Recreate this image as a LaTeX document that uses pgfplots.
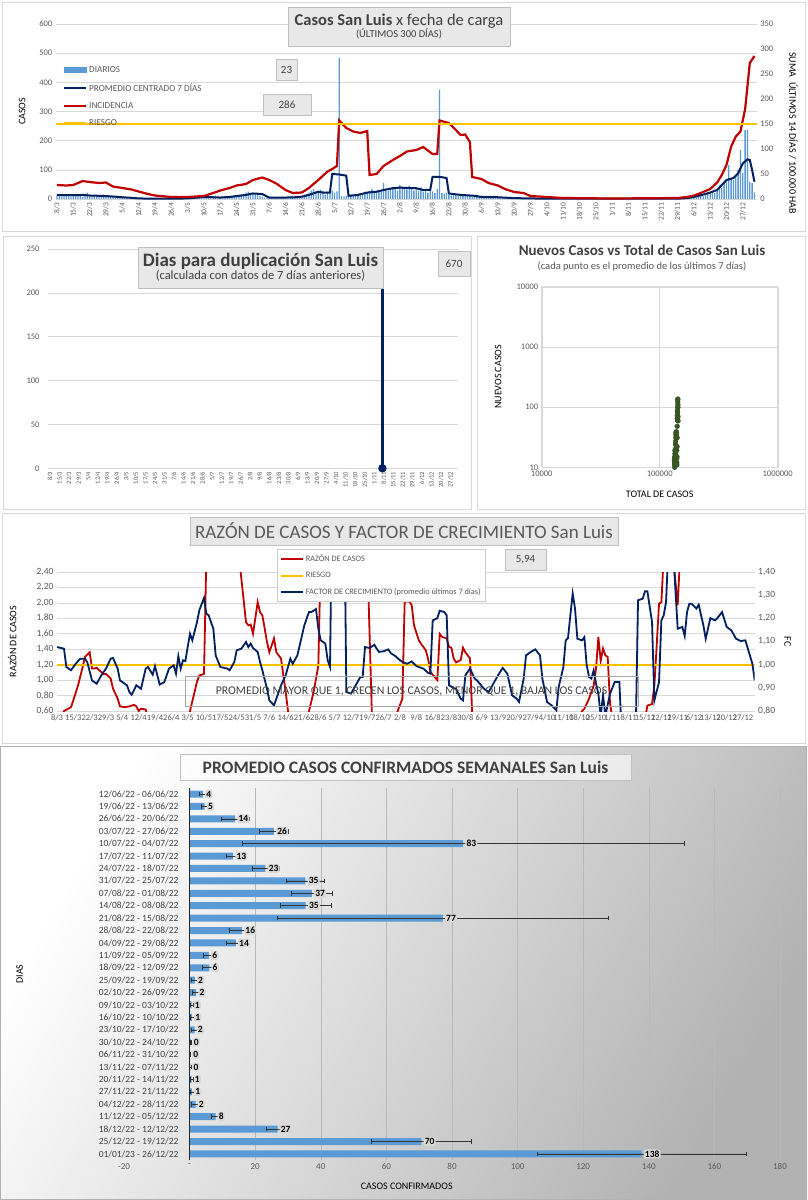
\documentclass[border=0pt]{standalone}
\usepackage{fontspec}
\setmainfont{Carlito}
\usepackage{pgfplots}
\usepackage{pgfplotstable}
\pgfplotsset{compat=1.18}

\definecolor{barblue}{HTML}{5B9BD5}
\definecolor{navy}{HTML}{002060}
\definecolor{incred}{HTML}{C00000}
\definecolor{riesgo}{HTML}{FFC000}
\definecolor{gridc}{HTML}{D9D9D9}
\definecolor{tickc}{HTML}{595959}
\definecolor{titc}{HTML}{404040}
\definecolor{framec}{HTML}{D9D9D9}
\definecolor{boxfill}{HTML}{E8E8E8}
\definecolor{scgreen}{HTML}{375623}

\pgfplotsset{
  every axis/.append style={
    scale only axis, axis line style={draw=none},
    major tick length=0pt, minor tick length=0pt,
    tick label style={font=\fontsize{8.5}{10}\selectfont, text=tickc},
    label style={font=\fontsize{8}{9}\selectfont, text=tickc},
    grid style={gridc, line width=0.6pt},
    /pgf/number format/assume math mode=true,
  },
  datelbl/.style={xtick={0,7,...,294},
    xticklabels={8/3,15/3,22/3,29/3,5/4,12/4,19/4,26/4,3/5,10/5,17/5,24/5,31/5,7/6,14/6,21/6,28/6,5/7,12/7,19/7,26/7,2/8,9/8,16/8,23/8,30/8,6/9,13/9,20/9,27/9,4/10,11/10,18/10,25/10,1/11,8/11,15/11,22/11,29/11,6/12,13/12,20/12,27/12}},
}
\tikzset{tbox/.style={draw=gray!50, fill=boxfill, text=titc, align=center, inner sep=1pt}}

% promedio semanal: fila, valor, error, etiqueta
\pgfplotstableread{
i v e lab
1 4.1 1.1 4
2 4.6 0.9 5
3 13.9 4.2 14
4 25.7 4.4 26
5 83.4 67.4 83
6 13.3 2.1 13
7 23.1 4.1 23
8 35.3 5.7 35
9 37.3 6.2 37
10 35.4 7.7 35
11 77.2 50.6 77
12 16.0 4.0 16
13 14.1 2.9 14
14 5.9 1.8 6
15 6.0 2.1 6
16 1.6 1.0 2
17 2.0 1.3 2
18 0.6 0.4 1
19 0.7 0.6 1
20 1.5 1.0 2
21 0.3 0.2 0
22 0.1 0.1 0
23 0.2 0.2 0
24 0.6 0.5 1
25 0.7 0.6 1
26 1.8 1.2 2
27 7.9 1.3 8
28 26.8 3.3 27
29 70.7 15.2 70
30 137.8 31.8 138
}\semanal

\begin{document}
\begin{tikzpicture}[x=1pt,y=1pt]
\path[use as bounding box, fill=white] (0,0) rectangle (807,-1200);
\draw[framec, line width=1pt] (2,-2) rectangle (805,-231);
\draw[framec, line width=1pt] (3,-236) rectangle (471,-509);
\draw[framec, line width=1pt] (477,-236) rectangle (805,-509);
\draw[framec, line width=1pt] (2,-513) rectangle (805,-743);
\shade[left color=white, right color=black!30, shading angle=60] (0,-746) rectangle (807,-1200);
\draw[gray!60] (0.5,-746.5) rectangle (806.5,-1199.5);

% ---------------- panel 1: casos x fecha de carga
\begin{axis}[at={(55.8pt,-199pt)}, anchor=south west, width=701pt, height=175pt,
  xmin=-0.5, xmax=300, ymin=0, ymax=600, ytick={0,100,...,600},
  ymajorgrids, datelbl, xtick pos=bottom, ytick pos=left,
  x tick label style={rotate=90, anchor=east, font=\fontsize{7.5}{8}\selectfont},
  ylabel={CASOS},
  every axis y label/.style={at={(axis description cs:-0.048,0.5)}, rotate=90, anchor=center}]
\addplot[ybar, bar width=1.3pt, bar shift=0pt, fill=barblue, draw=none] coordinates {
(0,12)(1,15)(2,8)(3,10)(4,14)(5,18)(6,9)(7,11)(8,13)(9,16)(10,12)(11,7)(12,10)(13,22)(14,14)(15,9)(16,11)(17,13)(18,10)(19,8)(20,15)(21,12)(22,9)(23,11)
(24,8)(25,6)(26,5)(27,7)(28,4)(29,3)(30,5)(31,2)(32,3)(33,4)(34,2)(35,1)(36,3)(37,2)(38,1)(39,2)(40,1)(42,2)(43,1)(45,1)(46,2)(48,1)(49,1)(51,2)(52,1)(54,1)(55,2)
(56,3)(57,5)(58,8)(59,4)(60,6)(61,9)(62,7)(63,5)(64,10)(65,8)(66,6)(67,9)(68,12)(69,7)(70,5)(71,8)(72,11)(73,9)(74,6)(75,10)(76,13)(77,9)(78,12)(79,15)(80,18)(81,22)(82,25)(83,20)(84,16)
(85,18)(86,15)(87,12)(88,8)(89,5)(90,6)(91,4)(92,3)(93,5)(94,6)(95,4)(96,7)(97,5)(98,3)(99,6)(100,5)(101,8)(102,4)(103,6)(104,9)(105,12)(106,15)(107,18)(108,22)(109,30)(110,35)(111,26)(112,20)(113,32)(114,28)(115,15)
(116,25)(117,18)(118,30)(119,22)(120,26)(121,485)(122,10)(123,8)(124,12)(125,9)(126,14)(127,11)(128,13)(129,16)(130,20)(131,18)(132,25)(133,22)(134,28)(135,35)(136,20)(137,24)(138,30)(139,26)(140,55)
(141,32)(142,28)(143,38)(144,42)(145,35)(146,30)(147,48)(148,40)(149,36)(150,33)(151,45)(152,38)(153,30)(154,35)(155,28)(156,40)(157,25)(158,30)(159,22)(160,28)(161,26)(162,20)(163,35)(164,375)
(165,20)(166,18)(167,22)(168,15)(169,12)(170,18)(171,14)(172,10)(173,16)(174,12)(175,9)(176,14)(177,11)(178,8)(179,10)(180,12)
(181,7)(182,9)(183,5)(184,8)(185,6)(186,4)(187,7)(188,5)(189,3)(190,6)(191,4)(192,5)(193,2)(194,3)(195,4)(196,2)(197,3)(198,1)(199,2)(200,3)(201,1)(202,2)(203,1)(205,2)(206,1)(207,1)(209,1)(210,2)
(212,1)(215,1)(218,2)(221,1)(226,1)(230,1)(236,1)(241,1)(247,1)(252,1)(257,1)(260,2)(263,1)(266,2)(268,1)
(269,2)(270,3)(271,5)(272,4)(273,8)(274,6)(275,10)(276,12)(277,9)(278,15)(279,18)(280,22)(281,25)(282,20)(283,30)(284,47)(285,38)(286,55)(287,60)(288,116)(289,70)(290,65)(291,80)(292,100)(293,168)(294,90)(295,236)(296,238)(297,60)(298,55)(299,23)};
\addplot[navy, line width=2pt] coordinates {
(0,14)(4,13)(8,13)(11,14)(14,12)(18,11)(21,10)(25,8)(28,6)(32,4)(35,2)(42,1)(49,1)(56,2)(60,5)(63,7)(67,6)(70,5)(74,7)(77,10)(81,14)(84,19)(88,17)(91,5)(95,5)(98,5)(102,6)(105,8)(108,14)(112,25)(114,22)(117,22)(118,86)(121,84)(124,80)(125,11)(129,14)(133,22)(137,25)(140,31)(144,37)(147,39)(150,38)(154,37)(157,31)(160,31)(161,76)(164,76)(167,72)(168,19)(173,14)(179,11)(182,7)(189,6)(196,3)(203,2)(210,1)(217,1)(266,1)(270,3)(273,7)(277,15)(280,22)(283,31)(285,48)(287,65)(290,72)(292,88)(294,122)(296,136)(297,134)(298,99)(299,59)};
\end{axis}
\begin{axis}[at={(55.8pt,-199pt)}, anchor=south west, width=701pt, height=175pt,
  xmin=-0.5, xmax=300, ymin=0, ymax=350, ytick={0,50,...,350}, xtick=\empty,
  ytick pos=right, yticklabel pos=right,
  ylabel={SUMA\ \ ÚLTIMOS\ 14\ DÍAS\ /\ 100.000\ HAB},
  ylabel style={font=\fontsize{8.8}{10}\selectfont},
  every axis y label/.style={at={(axis description cs:1.052,0.377)}, rotate=-90, anchor=center},
  legend style={at={(axis description cs:0.0103,0.77)}, anchor=north west, draw=none, fill=none,
    font=\fontsize{9.2}{10}\selectfont, text=tickc, row sep=5.6pt, inner sep=0pt},
  legend cell align=left,
  legend image code/.code={\draw[#1] (0pt,0pt) -- (22pt,0pt);}]
\addplot[incred, line width=2.2pt, forget plot] coordinates {
(0,28)(4,27)(7,28)(11,36)(14,34)(18,32)(21,33)(24,25)(28,22)(32,19)(35,15)(39,10)(42,7)(49,4)(56,4)(63,6)(67,12)(70,17)(74,22)(77,27)(81,30)(84,38)(88,43)(91,38)(94,31)(98,18)(101,12)(105,13)(108,22)(112,38)(116,55)(118,60)(120,66)(121,157)(124,142)(127,135)(130,132)(133,136)(134,48)(137,50)(140,66)(144,78)(147,86)(150,95)(154,98)(157,104)(159,97)(161,90)(163,90)(164,157)(168,152)(171,138)(173,128)(175,129)(177,114)(178,44)(182,40)(185,32)(189,27)(192,20)(196,14)(200,12)(203,6)(210,4)(217,2)(238,1)(266,2)(270,4)(273,7)(276,12)(280,20)(283,33)(285,48)(287,68)(289,105)(291,125)(293,135)(295,180)(297,272)(299,286)};
\addplot[riesgo, line width=2pt, forget plot] coordinates {(-0.5,150)(300,150)};
\addlegendimage{legend image code/.code={\fill[barblue] (0pt,-2.5pt) rectangle (22pt,2.5pt);}}
\addlegendentry{DIARIOS}
\addlegendimage{draw=navy, line width=2pt}
\addlegendentry{PROMEDIO CENTRADO 7 DÍAS}
\addlegendimage{draw=incred, line width=2pt}
\addlegendentry{INCIDENCIA}
\addlegendimage{draw=riesgo, line width=2pt}
\addlegendentry{RIESGO}
\end{axis}
\node[tbox, minimum width=222pt, minimum height=39pt] at (399,-26.5)
  {{\fontsize{16.5}{18}\selectfont\textbf{Casos San Luis} x fecha de carga}\\[0pt]{\fontsize{10.5}{12}\selectfont (ÚLTIMOS 300 DÍAS)}};
\node[tbox, minimum width=21pt, minimum height=21pt, font=\fontsize{11}{12}\selectfont] at (286.5,-69.5) {23};
\node[tbox, minimum width=48pt, minimum height=21pt, font=\fontsize{11}{12}\selectfont] at (287,-104.5) {286};

% ---------------- panel 2: dias para duplicacion
\begin{axis}[at={(48pt,-468.3pt)}, anchor=south west, width=410pt, height=219.3pt,
  xmin=-1.5, xmax=299.5, ymin=0, ymax=250, ytick={0,50,...,250}, ymajorgrids,
  datelbl, xtick pos=bottom, ytick pos=left,
  x tick label style={rotate=90, anchor=east, font=\fontsize{6.5}{7}\selectfont},
  y tick label style={xshift=-5pt}]
\addplot[navy, line width=3pt, mark=*, mark size=2.6pt] coordinates {(244,0)(244,670)};
\end{axis}
\node[tbox, minimum width=245pt, minimum height=41pt] at (260.5,-267.5)
  {{\fontsize{19}{21}\selectfont\bfseries Dias para duplicación San Luis}\\[0pt]{\fontsize{12.5}{14}\selectfont(calculada con datos de 7 días anteriores)}};
\node[tbox, minimum width=32pt, minimum height=25pt, font=\fontsize{11}{12}\selectfont] at (454,-263.5) {670};

% ---------------- panel 3: nuevos vs total
\begin{axis}[at={(541.7pt,-467.3pt)}, anchor=south west, width=236pt, height=180.6pt,
  xmode=log, ymode=log, xmin=1e4, xmax=1e6, ymin=10, ymax=1e4,
  xtick={1e4,1e5,1e6}, xticklabels={10000,100000,1000000},
  ytick={10,100,1000,10000}, yticklabels={10,100,1000,10000},
  grid=major, axis line style={draw=gridc},
  xlabel={TOTAL DE CASOS}, ylabel={NUEVOS CASOS},
  xlabel style={font=\fontsize{9.5}{11}\selectfont\bfseries, text=titc},
  ylabel style={font=\fontsize{9.5}{11}\selectfont\bfseries, text=titc},
  every axis y label/.style={at={(axis description cs:-0.185,0.5)}, rotate=90, anchor=center},
  every axis x label/.style={at={(axis description cs:0.5,-0.148)}, anchor=center}]
\addplot[only marks, mark=*, mark size=2.4pt, scgreen] coordinates {
(133200,14)(133400,13)(133500,12)(133600,13)(133800,11)(134000,10)(134100,12)(134300,15)(134600,19)(134800,17)(134900,14)(135000,11)(135200,13)(135500,16)(135800,20)(136100,24)(136400,27)(136800,31)(137100,35)(137500,38)(137900,39)(138200,37)(138500,33)(138800,31)(139000,38)(139200,22)(139400,19)(139600,14)(139700,11)(139800,12)(140000,15)(140200,22)(140400,31)(140600,48)(140800,65)(141000,72)(141200,88)(141500,80)(141700,84)(141900,60)(142000,100)(142100,122)(142300,136)(142400,134)(142600,110)(142700,99)(142800,70)(142900,59)};
\end{axis}
\node[text=titc, font=\fontsize{15}{17}\selectfont\bfseries] at (642,-250) {Nuevos Casos vs Total de Casos San Luis};
\node[text=tickc, font=\fontsize{10.5}{12}\selectfont] at (642,-267) {(cada punto es el promedio de los últimos 7 días)};

% ---------------- panel 4: razon de casos y factor de crecimiento
\begin{axis}[at={(57pt,-711pt)}, anchor=south west, width=697.7pt, height=139pt,
  xmin=0, xmax=299, ymin=0.6, ymax=2.4, ytick={0.6,0.8,...,2.41}, ymajorgrids,
  datelbl, xtick pos=bottom, ytick pos=left,
  tick label style={font=\fontsize{9.5}{10}\selectfont},
  x tick label style={font=\fontsize{8.5}{10}\selectfont},
  y tick label style={/pgf/number format/.cd, fixed, fixed zerofill, precision=2, use comma},
  ylabel={RAZÓN DE CASOS}, ylabel style={font=\fontsize{9}{10}\selectfont},
  every axis y label/.style={at={(axis description cs:-0.064,0.5)}, rotate=90, anchor=center}]
\addplot[incred, line width=1.8pt] coordinates {
(0,0.4)(3,0.6)(6,0.65)(7,0.74)(9,0.93)(11,1.17)(12,1.30)(13,1.33)(14,1.36)(15,1.15)(16,1.15)(17,1.16)(18,1.13)(20,1.08)(21,1.08)(23,1.02)(24,0.89)(26,0.76)(27,0.66)(29,0.65)(31,0.66)(33,0.68)(34,0.66)(35,0.60)(36,0.63)(38,0.62)(39,0.50)(56,0.50)(57,0.60)(60,0.98)(61,1.06)(63,1.08)(64,2.60)(78,2.60)(81,1.75)(82,1.71)(83,1.72)(84,1.60)(86,2.01)(87,1.88)(88,1.84)(89,1.67)(90,1.49)(91,1.36)(93,1.54)(94,1.36)(96,1.28)(97,1.06)(98,0.85)(99,0.60)(100,0.50)(107,0.50)(108,0.60)(110,0.85)(112,1.19)(113,2.60)(133,2.60)(135,0.50)(145,0.50)(146,0.60)(148,0.76)(149,2.02)(151,2.02)(152,1.97)(153,1.71)(155,1.52)(156,1.47)(158,1.39)(159,1.28)(160,1.11)(161,1.07)(163,1.00)(164,1.60)(165,1.56)(167,1.54)(168,1.43)(169,1.42)(170,1.28)(171,1.23)(173,1.26)(174,1.42)(175,1.36)(177,1.28)(178,0.50)(224,0.50)(225,0.60)(226,0.63)(228,0.76)(230,0.93)(231,1.15)(232,1.56)(233,1.25)(234,1.41)(235,1.32)(236,1.30)(237,0.70)(238,0.50)(252,0.50)(253,0.67)(255,0.69)(256,0.93)(257,1.45)(258,1.99)(259,2.01)(260,2.60)(264,2.60)(266,1.97)(267,2.60)(299,5.94)};
\end{axis}
\begin{axis}[at={(57pt,-711pt)}, anchor=south west, width=697.7pt, height=139pt,
  xmin=0, xmax=299, ymin=0.8, ymax=1.4, ytick={0.8,0.9,...,1.41}, xtick=\empty,
  ytick pos=right, yticklabel pos=right,
  tick label style={font=\fontsize{9.5}{10}\selectfont},
  y tick label style={/pgf/number format/.cd, fixed, fixed zerofill, precision=2, use comma},
  ylabel={FC}, ylabel style={font=\fontsize{9}{10}\selectfont},
  every axis y label/.style={at={(axis description cs:1.047,0.5)}, rotate=-90, anchor=center},
  legend style={at={(axis description cs:0.315,1.165)}, anchor=north west, draw=gray!40, fill=white,
    font=\fontsize{8.3}{9}\selectfont, text=tickc, row sep=5pt, inner xsep=3pt, inner ysep=3.5pt},
  legend cell align=left,
  legend image code/.code={\draw[#1] (0pt,0pt) -- (22pt,0pt);}]
\addplot[riesgo, line width=1.8pt, forget plot] coordinates {(0,1)(299,1)};
\addplot[navy, line width=1.8pt, forget plot] coordinates {
(0,1.076)(3,1.069)(4,0.99)(6,0.976)(8,1.004)(10,1.026)(12,1.026)(13,1.01)(15,0.932)(17,0.918)(19,0.954)(21,0.983)(23,1.026)(24,1.029)(26,0.983)(27,0.932)(30,0.911)(31,0.882)(32,0.870)(34,0.911)(36,0.896)(38,0.983)(39,0.99)(41,0.957)(42,0.994)(44,0.914)(46,0.925)(48,0.983)(50,0.997)(51,0.961)(52,1.037)(53,0.983)(54,1.019)(55,1.015)(56,1.076)(57,1.134)(58,1.105)(60,1.184)(61,1.235)(63,1.288)(64,1.22)(65,1.213)(67,1.155)(68,1.04)(70,0.99)(73,0.983)(74,0.976)(76,1.012)(77,1.062)(79,1.069)(81,1.098)(82,1.076)(83,1.091)(84,1.072)(86,1.055)(87,1.012)(88,0.976)(90,0.896)(91,0.846)(93,0.824)(94,0.853)(95,0.882)(96,0.911)(98,0.954)(99,0.99)(100,1.026)(101,1.004)(103,1.04)(104,1.083)(106,1.17)(107,1.199)(108,1.227)(109,1.227)(111,1.24)(112,1.155)(113,1.105)(115,1.091)(116,1.019)(117,0.99)(118,1.8)(123,1.8)(124,0.882)(126,0.875)(128,0.911)(130,0.947)(131,0.947)(132,1.076)(134,1.072)(136,1.086)(137,1.069)(138,1.055)(140,1.058)(142,1.066)(143,1.05)(145,1.037)(147,1.019)(148,1.012)(150,1.004)(152,1.014)(154,0.994)(157,0.983)(159,0.965)(160,0.961)(161,1.191)(163,1.201)(164,1.233)(166,1.227)(167,1.213)(168,0.911)(170,0.899)(171,0.896)(173,0.853)(174,0.846)(175,0.954)(177,0.983)(179,0.94)(180,0.932)(183,0.896)(185,0.882)(187,0.918)(189,0.954)(191,0.986)(193,0.961)(195,0.868)(197,0.853)(198,0.839)(200,0.94)(201,1.04)(203,1.055)(205,1.066)(207,1.04)(208,0.94)(210,0.839)(212,0.824)(214,0.803)(215,0.904)(217,0.99)(218,1.105)(219,1.115)(220,1.213)(221,1.307)(222,1.242)(223,1.112)(225,1.105)(226,1.119)(227,0.997)(228,0.947)(229,0.94)(230,0.976)(231,0.918)(232,0.875)(233,0.78)(234,0.868)(235,0.78)(237,0.875)(239,0.925)(241,0.925)(242,0.7)(248,0.7)(249,1.278)(251,1.285)(252,1.317)(253,1.317)(255,1.184)(256,0.846)(258,0.925)(259,1.191)(260,1.213)(261,1.27)(262,1.5)(264,1.5)(266,1.155)(268,1.163)(269,1.124)(270,1.227)(271,1.263)(272,1.263)(274,1.242)(275,1.259)(277,1.17)(278,1.112)(280,1.201)(282,1.191)(283,1.201)(285,1.227)(287,1.163)(289,1.148)(291,1.112)(293,1.102)(295,1.105)(298,1.004)(299,0.932)};
\addlegendimage{draw=incred, line width=1.8pt}
\addlegendentry{RAZÓN DE CASOS}
\addlegendimage{draw=riesgo, line width=1.8pt}
\addlegendentry{RIESGO}
\addlegendimage{draw=navy, line width=1.8pt}
\addlegendentry{FACTOR DE CRECIMIENTO (promedio últimos 7 días)}
\end{axis}
\node[draw=gray!50, fill=boxfill, text=tickc, minimum width=428pt, minimum height=28pt, font=\fontsize{19}{21}\selectfont] at (404,-531) {RAZÓN DE CASOS Y FACTOR DE CRECIMIENTO San Luis};
\node[tbox, minimum width=41pt, minimum height=21pt, font=\fontsize{11}{12}\selectfont] at (525.5,-559.5) {5,94};
\node[draw=gray!70, minimum width=453pt, minimum height=30pt, text=titc, font=\fontsize{11.8}{13}\selectfont] at (411.5,-691) {PROMEDIO MAYOR QUE 1, CRECEN LOS CASOS, MENOR QUE 1, BAJAN LOS CASOS};

% ---------------- panel 5: promedio semanal
\begin{axis}[at={(124pt,-1160.1pt)}, anchor=south west, width=656pt, height=372.3pt,
  xmin=-20, xmax=180, xtick={-20,0,...,180}, xticklabels={-20,-,20,40,60,80,100,120,140,160,180},
  minor xtick={20,40,...,180}, xminorgrids, minor grid style={gray!55, line width=0.6pt},
  y dir=reverse, ymin=0.5, ymax=30.5, ytick={1,...,30},
  yticklabels={12/06/22 - 06/06/22,19/06/22 - 13/06/22,26/06/22 - 20/06/22,03/07/22 - 27/06/22,10/07/22 - 04/07/22,17/07/22 - 11/07/22,24/07/22 - 18/07/22,31/07/22 - 25/07/22,07/08/22 - 01/08/22,14/08/22 - 08/08/22,21/08/22 - 15/08/22,28/08/22 - 22/08/22,04/09/22 - 29/08/22,11/09/22 - 05/09/22,18/09/22 - 12/09/22,25/09/22 - 19/09/22,02/10/22 - 26/09/22,09/10/22 - 03/10/22,16/10/22 - 10/10/22,23/10/22 - 17/10/22,30/10/22 - 24/10/22,06/11/22 - 31/10/22,13/11/22 - 07/11/22,20/11/22 - 14/11/22,27/11/22 - 21/11/22,04/12/22 - 28/11/22,11/12/22 - 05/12/22,18/12/22 - 12/12/22,25/12/22 - 19/12/22,01/01/23 - 26/12/22},
  tick label style={font=\fontsize{9}{10}\selectfont},
  y tick label style={font=\fontsize{9.5}{10}\selectfont, text=titc, xshift=58pt},
  xlabel={CASOS CONFIRMADOS}, ylabel={DIAS},
  xlabel style={font=\fontsize{8}{9}\selectfont\bfseries, text=titc},
  ylabel style={font=\fontsize{6.5}{7}\selectfont\bfseries, text=titc},
  every axis x label/.style={at={(axis description cs:0.431,-0.071)}, anchor=center},
  every axis y label/.style={at={(axis description cs:-0.159,0.5)}, rotate=90, anchor=center}]
\addplot[xbar, bar width=7pt, bar shift=0pt, fill=barblue, draw=none,
  nodes near coords, point meta=explicit symbolic,
  every node near coord/.append style={font=\fontsize{9.5}{10}\selectfont\bfseries, text=black,
    fill=gray!30, rounded corners=1.5pt, inner sep=1.2pt, anchor=west, xshift=2pt},
  error bars/.cd, x dir=both, x explicit,
  error bar style={line width=0.6pt, gray!40!black},
  error mark options={rotate=90, line width=0.6pt, gray!40!black, mark size=2.3pt}]
  table[x=v, y=i, x error=e, meta=lab] {\semanal};
\draw[gray!30!black, line width=1.3pt] (axis cs:0,0.5) -- (axis cs:0,30.5);
\end{axis}
\node[draw=gray!50, fill=white, fill opacity=0.6, text opacity=1, text=titc, minimum width=451pt, minimum height=26pt, font=\fontsize{17.5}{19}\selectfont\bfseries] at (405.5,-767) {PROMEDIO CASOS CONFIRMADOS SEMANALES San Luis};
\end{tikzpicture}
\end{document}
